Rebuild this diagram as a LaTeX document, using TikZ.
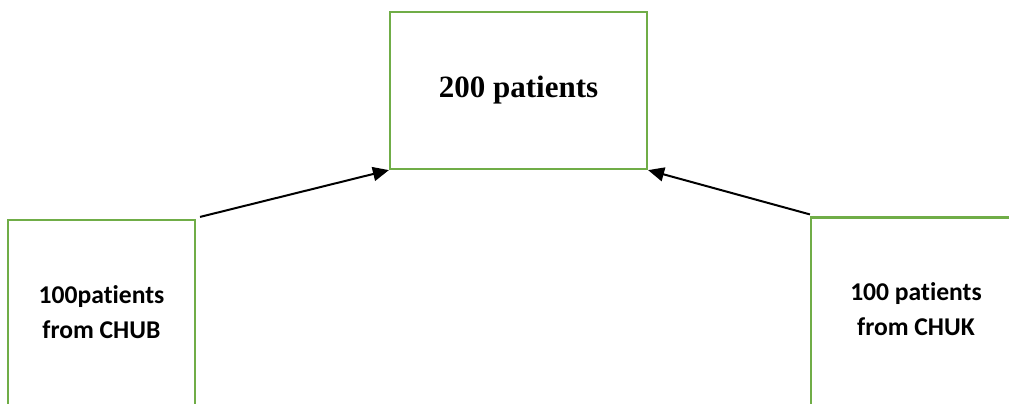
\documentclass[tikz,border=0pt]{standalone}
\usepackage{fontspec}
\setmainfont{Liberation Serif}
\newfontfamily\calibri[Ligatures=NoCommon]{Carlito}
\usetikzlibrary{arrows.meta}
\definecolor{boxgreen}{RGB}{112,173,71}
\newcommand{\sitetext}{\calibri\bfseries\fontsize{12.8}{17.5}\selectfont}

\begin{document}
\begin{tikzpicture}
                \tikzset{x=0.5pt, y=-0.5pt}
                \tikzstyle{site}=[rectangle, draw=boxgreen, line width=1.1pt, inner sep=0pt]
                \tikzstyle{label}=[align=center, font=\sitetext]
                \tikzstyle{flow}=[draw, line width=1pt, -{Triangle[length=8pt, width=7pt]}]

                \useasboundingbox (0, 0) rectangle (1009, 403);
                \clip (0, 0) rectangle (1009, 403);

                % total
                \draw (518.5, 90.5) node[site, minimum width=128.5pt, minimum height=78.5pt] (total)
                        {\bfseries\fontsize{15.5}{18}\selectfont 200 patients};

                % hospitals
                \draw (101.5, 330)  node[site, minimum width=93.5pt, minimum height=110pt]  (chub) {};
                \draw (916, 328.5)  node[site, minimum width=105pt, minimum height=111pt]   (chuk) {};

                % hospital labels
                \draw (101.5, 312)  node[label] (chubtext) {100patients\\ from CHUB};
                \draw (916, 309)    node[label] (chuktext) {100 patients\\ from CHUK};

                % arrows to total
                \draw [flow]        ([xshift=2pt, yshift=1pt]chub.north east) -- (total.south west);
                \draw [flow]        ([yshift=1pt]chuk.north west) -- (total.south east);
            \end{tikzpicture}
\end{document}
